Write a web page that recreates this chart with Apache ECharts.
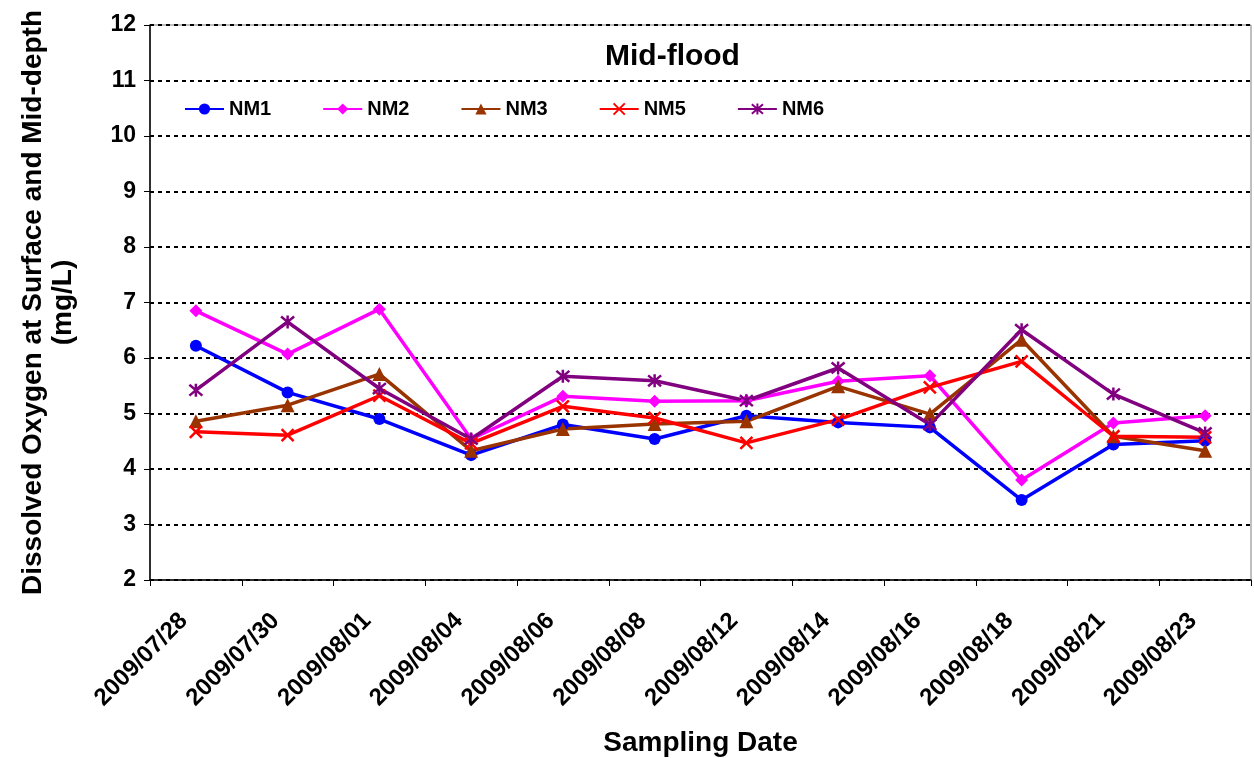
<!DOCTYPE html>
<html>
<head>
<meta charset="utf-8">
<script src="https://cdn.jsdelivr.net/npm/echarts@6/dist/echarts.min.js"></script>
<style>
  html, body { margin: 0; padding: 0; background: #fff; }
  #chart { width: 1254px; height: 758px; }
</style>
</head>
<body>
<div id="chart"></div>
<script>
// sampling dates (x axis)
var dates = ['2009/07/28', '2009/07/30', '2009/08/01', '2009/08/04', '2009/08/06', '2009/08/08',
             '2009/08/12', '2009/08/14', '2009/08/16', '2009/08/18', '2009/08/21', '2009/08/23'];

// dissolved oxygen, mg/L
var nm1 = [6.22, 5.38, 4.90, 4.25, 4.80, 4.54, 4.96, 4.84, 4.75, 3.44, 4.44, 4.51];
var nm2 = [6.85, 6.07, 6.88, 4.54, 5.31, 5.22, 5.23, 5.58, 5.68, 3.80, 4.83, 4.96];
var nm3 = [4.86, 5.15, 5.71, 4.33, 4.72, 4.81, 4.86, 5.49, 4.99, 6.33, 4.59, 4.33];
var nm5 = [4.67, 4.61, 5.32, 4.46, 5.13, 4.92, 4.47, 4.89, 5.47, 5.94, 4.59, 4.57];
var nm6 = [5.42, 6.65, 5.45, 4.54, 5.67, 5.59, 5.23, 5.82, 4.80, 6.51, 5.35, 4.65];

var yTicks = { min: 2, max: 12, step: 1 };

var FONT = '"Liberation Sans", Arial, sans-serif';
var crossPath = 'path://M0,0L10,10M10,0L0,10';
var starPath = 'path://M0,0L10,10M10,0L0,10M5,-1L5,11';

function lineSeries(name, data, color, symbol, size) {
  var stroke = symbol.indexOf('path://') === 0;
  return {
    name: name,
    type: 'line',
    data: data,
    symbol: symbol,
    symbolSize: size,
    showAllSymbol: true,
    lineStyle: { color: color, width: 3.5 },
    itemStyle: stroke
      ? { color: 'none', borderColor: color, borderWidth: 2.5 }
      : { color: color, borderColor: color, borderWidth: 0 },
    emphasis: { disabled: true },
    animation: false
  };
}

var myChart = echarts.init(document.getElementById('chart'));
var option = {
  animation: false,
  backgroundColor: '#fff',
  textStyle: { fontFamily: FONT },
  title: {
    text: 'Mid-flood',
    left: 600,
    top: 37,
    textStyle: { fontFamily: FONT, fontWeight: 'bold', fontSize: 30, color: '#000' }
  },
  legend: {
    left: 179,
    top: 94,
    itemWidth: 39,
    itemHeight: 14,
    itemGap: 51,
    textStyle: { fontFamily: FONT, fontWeight: 'bold', fontSize: 20, color: '#000' },
    data: ['NM1', 'NM2', 'NM3', 'NM5', 'NM6']
  },
  grid: {
    left: 150,
    right: 3,
    top: 25,
    bottom: 178,
    outerBoundsMode: 'none',
    containLabel: false,
    show: true,
    borderColor: '#808080',
    borderWidth: 1
  },
  xAxis: {
    type: 'category',
    data: dates,
    boundaryGap: true,
    name: 'Sampling Date',
    nameLocation: 'middle',
    nameGap: 149,
    nameTextStyle: { fontFamily: FONT, fontWeight: 'bold', fontSize: 28, color: '#000' },
    axisLine: { lineStyle: { color: '#000', width: 1.5 } },
    axisTick: { show: true, interval: 0, length: 6, lineStyle: { color: '#000' } },
    axisLabel: {
      interval: 0,
      rotate: 45,
      margin: 25,
      padding: [0, 17, 0, 0],
      fontFamily: FONT,
      fontWeight: 'bold',
      fontSize: 24,
      color: '#000'
    },
    splitLine: { show: false }
  },
  yAxis: {
    type: 'value',
    min: yTicks.min,
    max: yTicks.max,
    interval: yTicks.step,
    name: 'Dissolved Oxygen at Surface and Mid-depth\n(mg/L)',
    nameLocation: 'middle',
    nameGap: 72,
    nameTextStyle: { fontFamily: FONT, fontWeight: 'bold', fontSize: 28, color: '#000', lineHeight: 30 },
    axisLine: { show: true, lineStyle: { color: '#000', width: 1.5 } },
    axisTick: { show: true, length: 6, lineStyle: { color: '#000' } },
    axisLabel: { margin: 14, fontFamily: FONT, fontWeight: 'bold', fontSize: 23, color: '#000' },
    splitLine: { show: true, lineStyle: { color: '#000', width: 2, type: [4, 4] } }
  },
  series: [
    lineSeries('NM1', nm1, '#0000FF', 'circle', 12),
    lineSeries('NM2', nm2, '#FF00FF', 'diamond', 13),
    lineSeries('NM3', nm3, '#993300', 'triangle', 14),
    lineSeries('NM5', nm5, '#FF0000', crossPath, 12),
    lineSeries('NM6', nm6, '#800080', starPath, 13)
  ]
};
option && myChart.setOption(option);
</script>
</body>
</html>
